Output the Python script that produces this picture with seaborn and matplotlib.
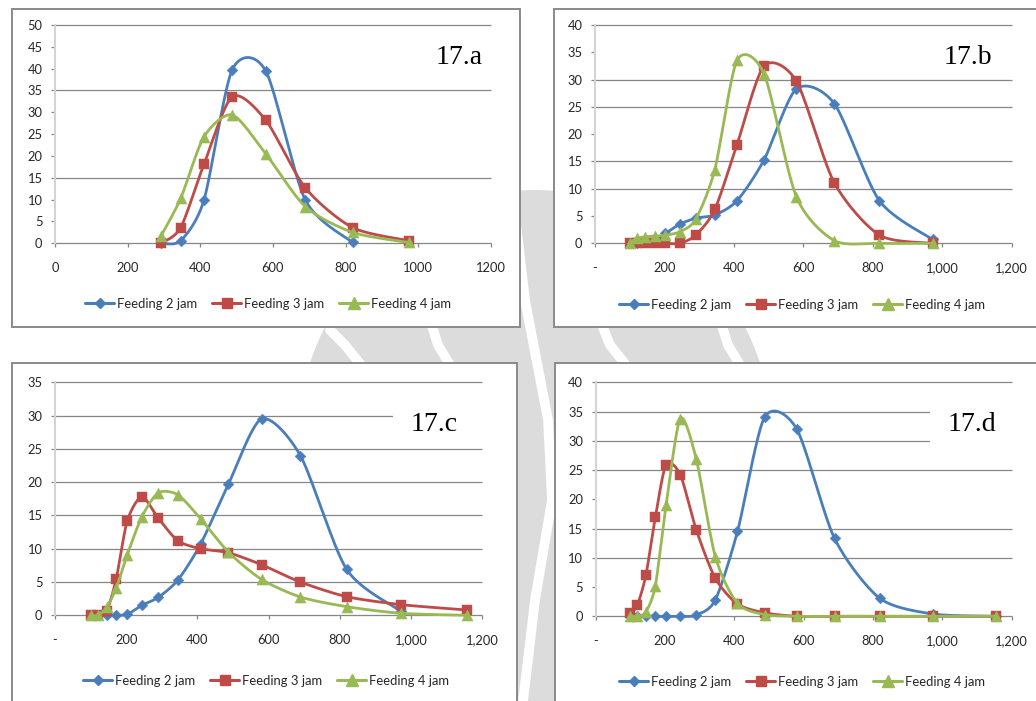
import numpy as np
import pandas as pd
import matplotlib
matplotlib.use("Agg")
import matplotlib.pyplot as plt
import seaborn as sns
from matplotlib.lines import Line2D
from matplotlib.patches import Rectangle, Ellipse
from matplotlib.ticker import FixedLocator, FuncFormatter

# ---------------- data ----------------
series_names = ["Feeding 2 jam", "Feeding 3 jam", "Feeding 4 jam"]

# particle size classes (x) for each panel
size_a = [292, 346, 410, 488, 580, 689, 819, 973]
size_b = [100, 120, 145, 172, 203, 244, 290, 345, 409, 487, 580, 689, 819, 972]
size_cd = [100, 120, 145, 172, 203, 244, 290, 345, 409, 487, 580, 689, 819, 972, 1156]

# 17.a (None = no reading for that size class)
feed2_a = [0, 0.6, 9.9, 39.8, 39.5, 9.9, 0.2, None]
feed3_a = [0, 3.6, 18.1, 33.6, 28.2, 12.7, 3.6, 0.6]
feed4_a = [1.7, 10.3, 24.4, 29.4, 20.5, 8.4, 2.5, 0.2]

# 17.b
feed2_b = [0, 0, 0.2, 0.6, 1.8, 3.5, 4.6, 5.2, 7.8, 15.3, 28.3, 25.6, 7.8, 0.7]
feed3_b = [0, 0, 0, 0, 0, 0, 1.5, 6.2, 18.1, 32.5, 29.7, 11.1, 1.5, 0]
feed4_b = [0.1, 0.9, 1.2, 1.3, 1.5, 2.1, 4.4, 13.5, 33.5, 31.0, 8.5, 0.5, 0, 0]

# 17.c
feed2_c = [0, 0, 0, 0, 0.15, 1.5, 2.7, 5.3, 10.7, 19.7, 29.5, 24.0, 6.9, 0.6, None]
feed3_c = [0, 0, 0.6, 5.5, 14.2, 17.8, 14.6, 11.2, 10.0, 9.4, 7.6, 5.0, 2.8, 1.6, 0.8]
feed4_c = [0, 0, 1.2, 4.1, 9.1, 14.8, 18.4, 18.1, 14.5, 9.5, 5.4, 2.75, 1.3, 0.3, 0]

# 17.d
feed2_d = [0, 0, 0, 0, 0, 0, 0.2, 2.8, 14.5, 34.0, 32.0, 13.3, 3.1, 0.4, 0]
feed3_d = [0.5, 1.9, 7.1, 16.9, 25.9, 24.2, 14.8, 6.5, 2.1, 0.6, 0, 0, 0, 0, 0]
feed4_d = [0, 0, 0.8, 5.2, 19.0, 33.8, 26.9, 10.2, 2.2, 0.3, 0, 0, 0, 0, 0]

panel_titles = ["17.a", "17.b", "17.c", "17.d"]
x_ticks = [0, 200, 400, 600, 800, 1000, 1200]
y_max = [50, 40, 35, 40]

# ---------------- style ----------------
W, H = 1036, 701
colors = ["#4A7EBB", "#BE4B48", "#98B954"]
markers = ["D", "s", "^"]
marker_px = [5.5, 7.0, 8.0]
grid_color = "#868686"
text_color = "#262626"
tick_font = ["Lato", "DejaVu Sans"]
SMOOTH = 0.13  # bezier handle length relative to neighbour chord

sns.set_theme(style="white")
plt.rcParams["font.family"] = tick_font

fig = plt.figure(figsize=(W / 100, H / 100), dpi=100)
fig.patch.set_facecolor("white")


def fig_box(x0, y0, x1, y1):
    """pixel box (top-left origin) -> figure fraction rect"""
    return [x0 / W, 1 - y1 / H, (x1 - x0) / W, (y1 - y0) / H]


def smooth_curve(x, y, steps=30):
    """Cubic Bezier pieces through every point, handles from neighbour chords."""
    P = np.column_stack([x, y]).astype(float)
    n = len(P)
    out = [P[0]]
    t = np.linspace(0, 1, steps + 1)[1:, None]
    for i in range(n - 1):
        p0 = P[i - 1] if i > 0 else P[i]
        p1, p2 = P[i], P[i + 1]
        p3 = P[i + 2] if i + 2 < n else P[i + 1]
        c1 = p1 + (p2 - p0) * SMOOTH
        c2 = p2 - (p3 - p1) * SMOOTH
        seg = ((1 - t) ** 3) * p1 + 3 * ((1 - t) ** 2) * t * c1 + 3 * (1 - t) * t ** 2 * c2 + t ** 3 * p2
        out.extend(seg)
    return np.array(out)


# ---------------- background emblem ----------------
fig.add_artist(Ellipse((535 / W, 1 - 455 / H), 480 / W, 530 / H,
                       transform=fig.transFigure, facecolor="#dcdcdc",
                       edgecolor="none", zorder=-5))
band_paths = [
    ([512, 525, 548, 552, 535, 522], [190, 300, 420, 500, 600, 710]),
    ([330, 345, 365, 400, 450, 500], [330, 345, 370, 400, 430, 460]),
    ([600, 610, 630, 660, 700, 740], [320, 345, 370, 400, 430, 460]),
    ([430, 438, 450, 470], [320, 345, 365, 390]),
    ([720, 728, 740], [320, 345, 365]),
]
for bx, by in band_paths:
    fig.add_artist(Line2D(np.array(bx) / W, 1 - np.array(by) / H,
                          transform=fig.transFigure, color="white",
                          lw=7, solid_capstyle="round", zorder=-4))

# ---------------- panel frames ----------------
frames = [(12, 9, 520, 327), (554, 9, 1040, 327), (12, 363, 517, 705), (555, 363, 1040, 705)]
for x0, y0, x1, y1 in frames:
    fig.add_artist(Rectangle((x0 / W, 1 - y1 / H), (x1 - x0) / W, (y1 - y0) / H,
                             transform=fig.transFigure, facecolor="white",
                             edgecolor="#8a8a8a", lw=1.4, zorder=-3))

# ---------------- plot areas ----------------
plot_boxes = [(55, 25, 491, 243.3), (595, 25, 1011.7, 243.3),
              (55, 382.3, 482.3, 615.3), (595.7, 382.3, 1011.7, 616.3)]
grid_levels = [[0, 15, 35, 50], [0, 10, 15, 25, 30, 40],
               [0, 5, 10, 15, 20, 25, 30, 35], [0, 10, 15, 25, 30, 35, 40]]
panel_sizes = [size_a, size_b, size_cd, size_cd]
panel_series = [[feed2_a, feed3_a, feed4_a], [feed2_b, feed3_b, feed4_b],
                [feed2_c, feed3_c, feed4_c], [feed2_d, feed3_d, feed4_d]]
legend_centers = [(268, 304), (802, 305), (266, 681), (802, 682)]
title_pos = [(483, 64), (992, 64), (458, 431), (996, 431)]
title_masks = [None, None, (393, 395, 484, 438), (930, 398, 1013, 452)]


def plain_fmt(v, pos):
    return f"{int(v)}"


def acct_fmt(v, pos):
    return "-" if v == 0 else f"{int(v):,}"


for k in range(4):
    ax = fig.add_axes(fig_box(*plot_boxes[k]))
    ax.set_facecolor("none")
    ax.set_xlim(0, 1200)
    ax.set_ylim(0, y_max[k])
    for sp in ["top", "right", "bottom"]:
        ax.spines[sp].set_visible(False)
    ax.spines["left"].set_color("#d4d4d4")
    ax.spines["left"].set_linewidth(1.5)
    ax.hlines(grid_levels[k], 0, 1200, colors=grid_color, lw=0.9, zorder=1)

    ax.xaxis.set_major_locator(FixedLocator(x_ticks))
    ax.yaxis.set_major_locator(FixedLocator(list(range(0, y_max[k] + 1, 5))))
    ax.xaxis.set_major_formatter(FuncFormatter(plain_fmt if k == 0 else acct_fmt))
    ax.yaxis.set_major_formatter(FuncFormatter(plain_fmt))
    ax.tick_params(axis="x", bottom=True, direction="out", length=3, width=0.9,
                   color=grid_color, pad=10.5, labelsize=9.3, labelcolor=text_color)
    ax.tick_params(axis="y", left=True, direction="out", length=3, width=0.9,
                   color=grid_color, pad=6, labelsize=9.3, labelcolor=text_color)

    for j, ys in enumerate(panel_series[k]):
        pts = [(x, y) for x, y in zip(panel_sizes[k], ys) if y is not None]
        xs = [p[0] for p in pts]
        yv = [p[1] for p in pts]
        sm = smooth_curve(xs, yv)
        df_line = pd.DataFrame({"size": sm[:, 0], "pct": sm[:, 1]})
        df_pts = pd.DataFrame({"size": xs, "pct": yv})
        sns.lineplot(data=df_line, x="size", y="pct", sort=False, estimator=None,
                     color=colors[j], lw=2.0, ax=ax, legend=False, zorder=3 + 2 * j)
        sns.scatterplot(data=df_pts, x="size", y="pct", marker=markers[j],
                        s=marker_px[j] ** 2, color=colors[j], edgecolor=colors[j],
                        linewidth=0.3, ax=ax, legend=False, zorder=4 + 2 * j)
    ax.set_xlabel("")
    ax.set_ylabel("")
    for art in list(ax.lines) + list(ax.collections):
        art.set_clip_on(False)

    if title_masks[k] is not None:
        x0, y0, x1, y1 = title_masks[k]
        fig.add_artist(Rectangle((x0 / W, 1 - y1 / H), (x1 - x0) / W, (y1 - y0) / H,
                                 transform=fig.transFigure, facecolor="white",
                                 edgecolor="none", zorder=5))
    tx, ty = title_pos[k]
    fig.text(tx / W, 1 - ty / H, panel_titles[k], ha="right", va="baseline",
             family=["Liberation Serif", "DejaVu Serif"], fontsize=20,
             color="black", zorder=6)

    handles = [Line2D([], [], color=colors[j], lw=2.2, marker=markers[j],
                      markersize=marker_px[j] * (0.85 if j == 0 else 1.0))
               for j in range(3)]
    cx, cy = legend_centers[k]
    fig.legend(handles, series_names, loc="center",
               bbox_to_anchor=(cx / W, 1 - cy / H), ncol=3, frameon=False,
               handlelength=2.2, handletextpad=0.2, columnspacing=1.2,
               prop={"family": tick_font, "size": 9.4}, labelcolor=text_color)

fig.savefig("out.png", dpi=100, facecolor="white")
